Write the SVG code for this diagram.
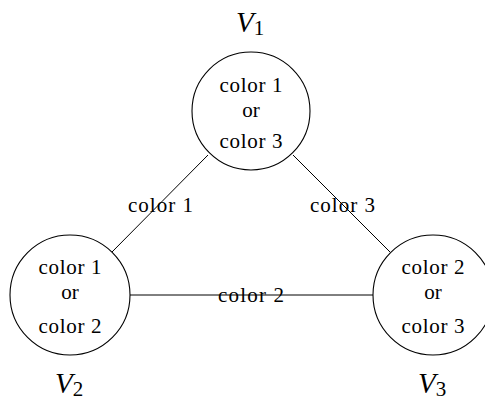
<svg xmlns="http://www.w3.org/2000/svg" width="485" height="401" viewBox="0 0 485 401">
<style>
.n{fill:#fff;stroke:#000;stroke-width:1.1}
.e{stroke:#000;stroke-width:1;fill:none}
.t{font-family:"Liberation Serif",serif;font-size:21px;fill:#000;text-anchor:middle}
.v{font-family:"Liberation Serif",serif;font-size:29px;font-style:italic;fill:#000}
.s{font-family:"Liberation Serif",serif;font-size:21px;font-style:normal}
</style>
<rect width="485" height="401" fill="#fff"/>
<g id="edges">
<line class="e" x1="208" y1="155" x2="112" y2="252"/>
<line class="e" x1="293" y1="155" x2="390" y2="252"/>
<line class="e" x1="130" y1="295" x2="373" y2="295"/>
<text class="t" x="160.5" y="212" textLength="65" lengthAdjust="spacing">color 1</text>
<text class="t" x="342.5" y="212" textLength="65" lengthAdjust="spacing">color 3</text>
<text class="t" x="251" y="302" textLength="66" lengthAdjust="spacing">color 2</text>
</g>
<g id="V1">
<circle class="n" cx="251" cy="111" r="59"/>
<text class="t" x="251" y="92" textLength="63" lengthAdjust="spacing">color 1</text>
<text class="t" x="251" y="117">or</text>
<text class="t" x="251" y="148" textLength="63" lengthAdjust="spacing">color 3</text>
<text class="v" x="236" y="32">V<tspan class="s" dy="3">1</tspan></text>
</g>
<g id="V2">
<circle class="n" cx="70" cy="295" r="60"/>
<text class="t" x="70" y="274" textLength="63" lengthAdjust="spacing">color 1</text>
<text class="t" x="70" y="299">or</text>
<text class="t" x="70" y="333" textLength="63" lengthAdjust="spacing">color 2</text>
<text class="v" x="55" y="393">V<tspan class="s" dy="3">2</tspan></text>
</g>
<g id="V3">
<circle class="n" cx="433" cy="295" r="60"/>
<text class="t" x="433" y="274" textLength="63" lengthAdjust="spacing">color 2</text>
<text class="t" x="433" y="299">or</text>
<text class="t" x="433" y="333" textLength="63" lengthAdjust="spacing">color 3</text>
<text class="v" x="418" y="393">V<tspan class="s" dy="3">3</tspan></text>
</g>
</svg>
